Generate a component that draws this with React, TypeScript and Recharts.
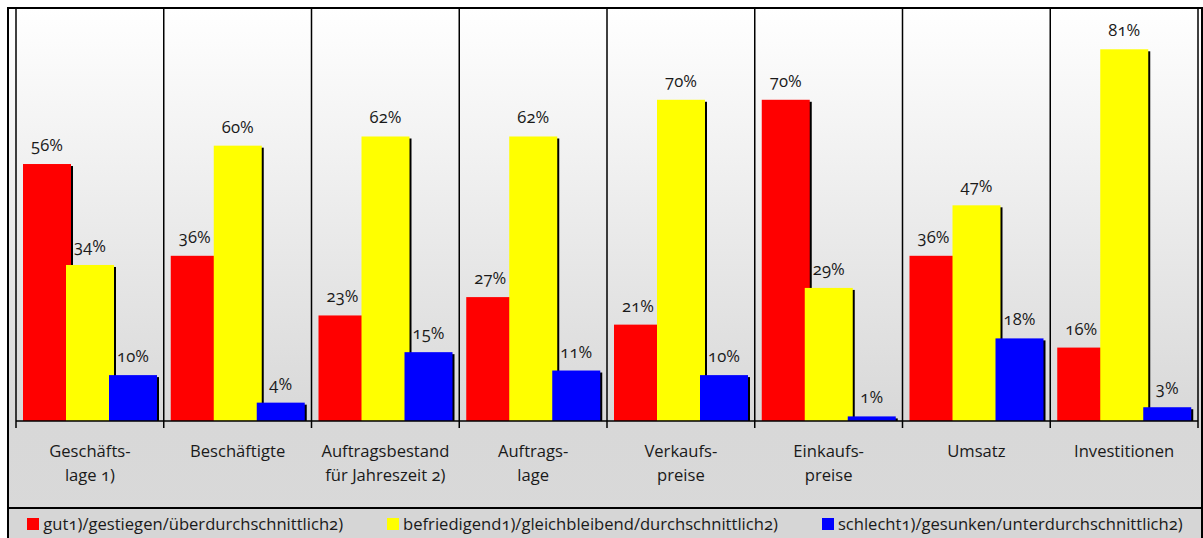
import { BarChart, Bar, XAxis, YAxis, ReferenceLine, Legend, LabelList } from 'recharts'

const categories = [
    'Geschäfts-\nlage 1)',
    'Beschäftigte',
    'Auftragsbestand\nfür Jahreszeit 2)',
    'Auftrags-\nlage',
    'Verkaufs-\npreise',
    'Einkaufs-\npreise',
    'Umsatz',
    'Investitionen',
]

const gut = [56, 36, 23, 27, 21, 70, 36, 16]
const befriedigend = [34, 60, 62, 62, 70, 29, 47, 81]
const schlecht = [10, 4, 15, 11, 10, 1, 18, 3]

const seriesNames = [
    'gut1)/gestiegen/überdurchschnittlich2)',
    'befriedigend1)/gleichbleibend/durchschnittlich2)',
    'schlecht1)/gesunken/unterdurchschnittlich2)',
]
const seriesColors = ['#ff0000', '#ffff00', '#0000ff']

const data = categories.map((name, i) => ({
    name,
    gut: gut[i],
    befriedigend: befriedigend[i],
    schlecht: schlecht[i],
}))

const FONT = '"Open Sans", sans-serif'
const TEXT = '#1a1a1a'
const FS = 16.6

// bar with a small black drop shadow on the right
function ShadowBar(props: any) {
    const { x, y, width, height, fill } = props
    if (!height || height <= 0) return null
    return (
        <g>
            <rect x={x + 2} y={y + 2} width={width} height={Math.max(height - 2, 0)} fill="#000" />
            <rect x={x} y={y} width={width} height={height} fill={fill} />
        </g>
    )
}

function CategoryTick(props: any) {
    const { x, y, payload, index, visibleTicksCount, width } = props
    const half = payload.offset ?? width / visibleTicksCount / 2
    const lines = String(payload.value).split('\n')
    return (
        <g>
            <line x1={x - half} y1={y} x2={x - half} y2={y + 7} stroke="#000" strokeWidth={1.5} />
            {index === visibleTicksCount - 1 && (
                <line x1={x + half} y1={y} x2={x + half} y2={y + 7} stroke="#000" strokeWidth={1.5} />
            )}
            <text x={x} y={y + 36} textAnchor="middle" fill={TEXT} fontSize={FS}>
                {lines.map((l, i) => (
                    <tspan key={i} x={x} dy={i === 0 ? 0 : 24}>
                        {l}
                    </tspan>
                ))}
            </text>
        </g>
    )
}

function LegendContent(props: any) {
    const items = [...(props.payload || [])].sort(
        (a: any, b: any) => seriesNames.indexOf(a.value) - seriesNames.indexOf(b.value)
    )
    return (
        <div
            style={{
                boxSizing: 'border-box',
                height: 31,
                borderTop: '2px solid #000',
                background: '#d6d6d6',
                display: 'flex',
                justifyContent: 'center',
                alignItems: 'center',
                gap: 44,
                fontSize: FS,
                color: TEXT,
            }}
        >
            {items.map((it: any) => (
                <div key={it.value} style={{ display: 'flex', alignItems: 'center' }}>
                    <span style={{ width: 12, height: 12, background: it.color, marginRight: 4, display: 'inline-block' }} />
                    <span>{it.value}</span>
                </div>
            ))}
        </div>
    )
}

export default function App() {
    return (
        <div
            style={{
                position: 'absolute',
                left: 0,
                top: 0,
                width: 1203,
                height: 538,
                overflow: 'hidden',
                fontFamily: FONT,
                fontVariantNumeric: 'oldstyle-nums',
                background: '#fff',
            }}
        >
            <div
                style={{
                    position: 'absolute',
                    left: 7,
                    top: 7,
                    width: 1196,
                    height: 540,
                    boxSizing: 'border-box',
                    border: '2px solid #000',
                    background: 'linear-gradient(to bottom, #ffffff 0px, #d8d8d8 412px, #d9d9d9 100%)',
                }}
            />
            <div style={{ position: 'absolute', left: 0, top: 0 }}>
                <BarChart
                    width={1203}
                    height={538}
                    data={data}
                    margin={{ top: 8, right: 5, left: 16, bottom: 0 }}
                    barSize={48}
                    barGap={-5}
                >
                    <YAxis hide domain={[0, 90]} type="number" />
                    <XAxis
                        dataKey="name"
                        height={86}
                        interval={0}
                        tickLine={false}
                        tickSize={0}
                        tickMargin={0}
                        axisLine={{ stroke: '#000', strokeWidth: 1.5 }}
                        tick={<CategoryTick />}
                    />
                    {categories.map((c) => (
                        <ReferenceLine key={'s' + c} x={c} position="start" stroke="#000" strokeWidth={1.5} />
                    ))}
                    <ReferenceLine
                        key="end"
                        x={categories[categories.length - 1]}
                        position="end"
                        stroke="#000"
                        strokeWidth={1.5}
                    />
                    <Legend
                        verticalAlign="bottom"
                        content={<LegendContent />}
                        wrapperStyle={{ left: 9, width: 1192, bottom: 0, height: 31 }}
                    />
                    <Bar dataKey="gut" name={seriesNames[0]} fill={seriesColors[0]} shape={<ShadowBar />} isAnimationActive={false}>
                        <LabelList dataKey="gut" position="top" offset={13} fill={TEXT} fontSize={FS} formatter={(v: any) => `${v}%`} />
                    </Bar>
                    <Bar dataKey="befriedigend" name={seriesNames[1]} fill={seriesColors[1]} shape={<ShadowBar />} isAnimationActive={false}>
                        <LabelList dataKey="befriedigend" position="top" offset={13} fill={TEXT} fontSize={FS} formatter={(v: any) => `${v}%`} />
                    </Bar>
                    <Bar dataKey="schlecht" name={seriesNames[2]} fill={seriesColors[2]} shape={<ShadowBar />} isAnimationActive={false}>
                        <LabelList dataKey="schlecht" position="top" offset={13} fill={TEXT} fontSize={FS} formatter={(v: any) => `${v}%`} />
                    </Bar>
                </BarChart>
            </div>
        </div>
    )
}
